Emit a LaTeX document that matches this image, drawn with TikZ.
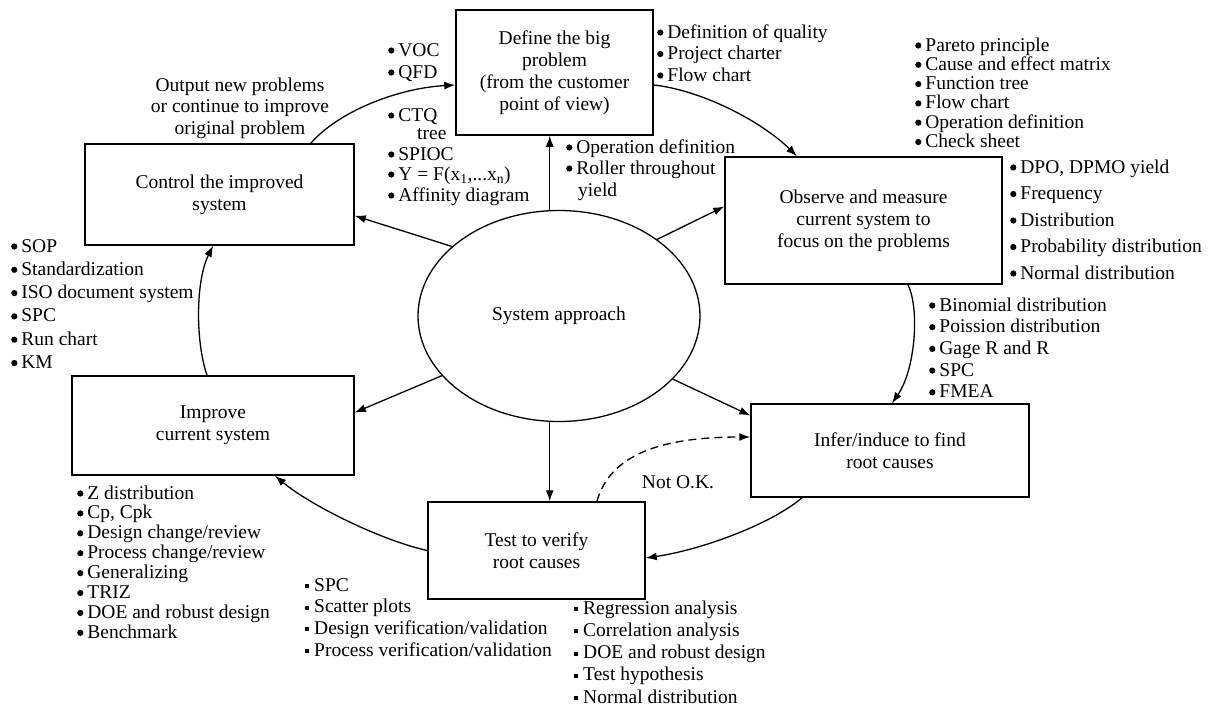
\documentclass[tikz,border=0pt]{standalone}
\usepackage{fontspec}
\setmainfont{Liberation Serif}
\usetikzlibrary{arrows.meta,calc,shapes.geometric}
\newcommand\blt{\tikz[baseline=-5.5pt]\fill (0,0) circle (3.1pt);\hspace{4pt}}
\newcommand\sqb{\rule[3pt]{4pt}{4pt}\hspace{5pt}}
\newcommand\mylist[7]{\foreach \t [count=\n from 0] in {#7} {\node[#1] (#2\n) at (#3,#4+\n*#5) {#6\t};}}
\begin{document}
\begin{tikzpicture}[x=1pt,y=-1pt,
  box/.style={draw,line width=1.5pt,align=center,inner sep=0pt,font=\fontsize{19.5}{22}\selectfont},
  item/.style={inner sep=0pt,anchor=base west,font=\fontsize{19.5}{22}\selectfont},
  lbl/.style={inner sep=0pt,align=center,font=\fontsize{19.5}{21.5}\selectfont},
  conn/.style={line width=1.3pt,-{Latex[length=11pt,width=8pt]}},
]
\useasboundingbox (0,0) rectangle (1210,707);
\fill[white] (0,0) rectangle (1210,707);

% boxes
\node[box,minimum width=197pt,minimum height=125pt] (def) at (554.5,72.5) {Define the big\\problem\\(from the customer\\point of view)};
\node[box,minimum width=269pt,minimum height=101pt] (ctl) at (219.5,194.5) {Control the improved\\system};
\node[box,minimum width=277pt,minimum height=127pt] (obs) at (863.5,220.5) {Observe and measure\\current system to\\focus on the problems};
\node[box,minimum width=282pt,minimum height=99pt] (imp) at (213,425.5) {Improve\\current system};
\node[box,minimum width=278pt,minimum height=93pt] (inf) at (890,450.5) {Infer/induce to find\\root causes};
\node[box,minimum width=217pt,minimum height=97pt] (tst) at (536.5,550.5) {Test to verify\\root causes};
\node[box,ellipse,line width=1.3pt,minimum width=282pt,minimum height=211pt] (ell) at (559,316) {System approach};

% spokes
\draw[conn] (ell.95) -- (ell.95 |- def.south);
\draw[conn] (ell.265) -- (ell.265 |- tst.north);
\draw[conn] (ell.147.6) -- ($(ctl.south east)+(0,-30)$);
\draw[conn] (ell.38) -- ($(obs.west)+(0,-14)$);
\draw[conn] (ell.207.5) -- ($(imp.east)+(0,-13)$);
\draw[conn] (ell.331) -- ($(inf.west)+(0,-35)$);

% cycle
\draw[conn] ($(ctl.north east)+(-44,0)$) .. controls (340,110) and (400,88) .. ($(def.west)+(0,12.5)$);
\draw[conn] ($(def.east)+(0,12.5)$) .. controls (700,90) and (760,120) .. ($(obs.north)+(-66.5,0)$);
\draw[conn] ($(obs.south)+(44.5,0)$) .. controls (920,310) and (915,370) .. ($(inf.north)+(2,0)$);
\draw[conn] ($(inf.south)+(-88,0)$) .. controls (770,525) and (700,550) .. ($(tst.east)+(0,7.5)$);
\draw[conn] (tst.west) .. controls (380,540) and (310,505) .. ($(imp.south)+(62,0)$);
\draw[conn] ($(imp.north)+(-6,0)$) .. controls (195,340) and (196,280) .. ($(ctl.south)+(-6.5,0)$);
\draw[conn,dash pattern=on 8pt off 5pt] ($(tst.north)+(60.5,0)$) .. controls (610,455) and (660,437) .. ($(inf.west)+(0,-13.5)$);

% labels
\node[lbl] (out) at (240,108) {Output new problems\\or continue to improve\\original problem};
\node[lbl] (notok) at (678,482) {Not O.K.};

% lists
\mylist{item}{voc}{388}{56}{22}{\blt}{VOC,QFD}
\node[item] (ctq) at (388,121) {\blt CTQ};
\node[item] (tree) at (417,139) {tree};
\node[item] (spioc) at (388,160) {\blt SPIOC};
\node[item] (yf) at (388,180) {\blt Y = F(x\textsubscript{1},...x\textsubscript{n})};
\node[item] (aff) at (388,201) {\blt Affinity diagram};

\node[item] (op0) at (566,153) {\blt Operation definition};
\node[item] (op1) at (566,174) {\blt Roller throughout};
\node[item] (op2) at (578,196) {yield};

\mylist{item}{dq}{657}{38}{21.5}{\blt}{Definition of quality,Project charter,Flow chart}
\mylist{item}{pa}{915}{51}{19.3}{\blt}{Pareto principle,Cause and effect matrix,Function tree,Flow chart,Operation definition,Check sheet}
\mylist{item}{dp}{1010}{173}{26.5}{\blt}{{DPO, DPMO yield},Frequency,Distribution,Probability distribution,Normal distribution}
\mylist{item}{bi}{929}{311}{21.7}{\blt}{Binomial distribution,Poission distribution,Gage R and R,SPC,FMEA}
\mylist{item}{so}{11}{252}{23.3}{\blt}{SOP,Standardization,ISO document system,SPC,Run chart,KM}
\mylist{item}{zd}{77}{499}{19.9}{\blt}{Z distribution,{Cp, Cpk},Design change/review,Process change/review,Generalizing,TRIZ,DOE and robust design,Benchmark}
\mylist{item}{sp}{305}{591}{21.7}{\sqb}{SPC,Scatter plots,Design verification/validation,Process verification/validation}
\mylist{item}{re}{574}{614}{22.3}{\sqb}{Regression analysis,Correlation analysis,DOE and robust design,Test hypothesis,Normal distribution}
\end{tikzpicture}
\end{document}
